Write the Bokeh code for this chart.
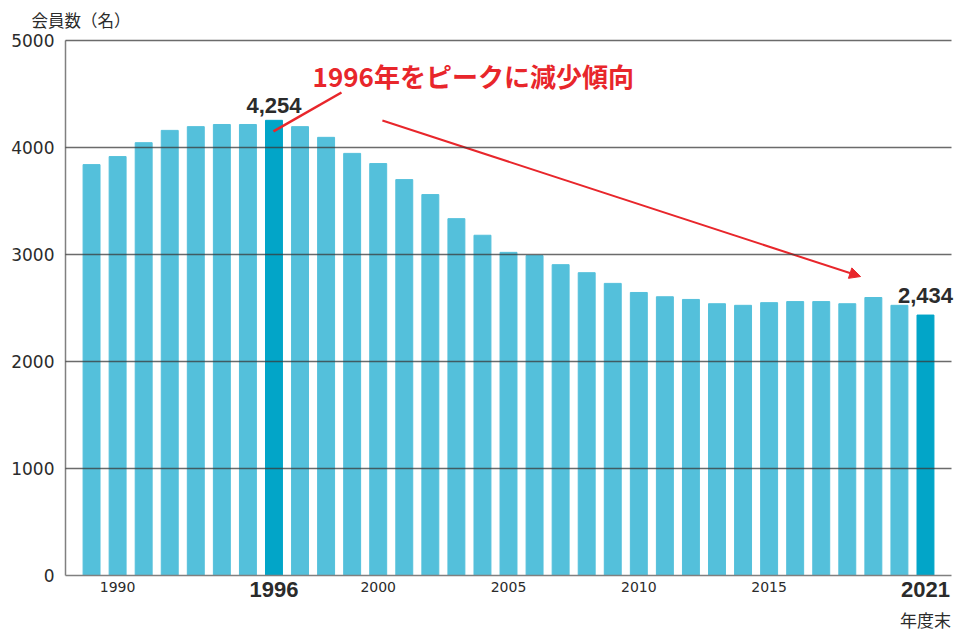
from bokeh.plotting import figure
from bokeh.models import Range1d, FixedTicker, Label, Arrow, NormalHead, ColumnDataSource
from bokeh.embed import file_html
from bokeh.resources import INLINE

# ---- data ----
years = list(range(1989, 2022))
members = [3840, 3915, 4045, 4160, 4195, 4215, 4215, 4254, 4195, 4095, 3945,
           3850, 3700, 3560, 3335, 3180, 3020, 2990, 2905, 2830, 2730, 2645,
           2605, 2580, 2540, 2525, 2550, 2560, 2560, 2540, 2598, 2525, 2434]
highlight_years = [1996, 2021]
y_ticks = [0, 1000, 2000, 3000, 4000, 5000]
x_small_ticks = [1990, 2000, 2005, 2010, 2015]
y_title = "会員数（名）"
x_title = "年度末"
headline = "1996年をピークに減少傾向"

BASE = "#54C0DB"
HILITE = "#02A5C8"
RED = "#E8262B"
TXT = "#2b2b2b"

W, H = 968, 632
colors = [HILITE if y in highlight_years else BASE for y in years]
src = ColumnDataSource(dict(year=years, members=members, color=colors))

# frame covers whole canvas; data area spans 1988..2022 x 0..5000
p = figure(width=W, height=H, output_backend="svg", toolbar_location=None,
           x_range=Range1d(1985.506, 2022.651), y_range=Range1d(-532.7, 5373.8),
           min_border_left=0, min_border_right=0, min_border_top=0,
           min_border_bottom=0)
p.outline_line_color = None
p.background_fill_color = "white"
p.border_fill_color = "white"

p.vbar(x="year", top="members", width=0.65, color="color", source=src)

# y axis
p.yaxis.fixed_location = 1988
p.yaxis.bounds = (0, 5000)
p.yaxis.ticker = FixedTicker(ticks=y_ticks)
p.yaxis.axis_line_color = "#808080"
p.yaxis.axis_line_width = 1.5
p.yaxis.major_tick_line_color = None
p.yaxis.minor_tick_line_color = None
p.yaxis.major_tick_out = 0
p.yaxis.major_label_standoff = 11
p.yaxis.major_label_text_font = "DejaVu Sans"
p.yaxis.major_label_text_font_size = "17px"
p.yaxis.major_label_text_color = TXT

# x axis
p.xaxis.fixed_location = 0
p.xaxis.bounds = (1988, 2022)
p.xaxis.ticker = FixedTicker(ticks=x_small_ticks)
p.xaxis.axis_line_color = "#808080"
p.xaxis.axis_line_width = 1.5
p.xaxis.major_tick_line_color = None
p.xaxis.minor_tick_line_color = None
p.xaxis.major_tick_out = 0
p.xaxis.major_label_standoff = 6
p.xaxis.major_label_text_font = "DejaVu Sans"
p.xaxis.major_label_text_font_size = "14px"
p.xaxis.major_label_text_color = TXT

# grid
p.xgrid.visible = False
p.ygrid.ticker = FixedTicker(ticks=y_ticks[1:])
p.ygrid.cross_bounds = (1988, 2022)
p.ygrid.grid_line_color = "#3a3a3a"
p.ygrid.grid_line_alpha = 0.75
p.ygrid.grid_line_width = 1.5
p.ygrid.level = "overlay"

# bold year labels
for yr in highlight_years:
    p.add_layout(Label(x=yr, y=0, y_offset=-14, text=str(yr), text_align="center",
                       text_baseline="middle", text_font="Liberation Sans",
                       text_font_style="bold", text_font_size="22px", text_color=TXT))

# value labels
peak_val = members[years.index(1996)]
last_val = members[-1]
p.add_layout(Label(x=1996, y=peak_val, y_offset=15, text=f"{peak_val:,}",
                   text_align="center", text_baseline="middle",
                   text_font="Liberation Sans", text_font_style="bold",
                   text_font_size="22px", text_color=TXT))
p.add_layout(Label(x=2021, y=last_val, y_offset=20, text=f"{last_val:,}",
                   text_align="center", text_baseline="middle",
                   text_font="Liberation Sans", text_font_style="bold",
                   text_font_size="22px", text_color=TXT))

# axis titles
p.add_layout(Label(x=31, y=H - 19.5, x_units="screen", y_units="screen", text=y_title,
                   text_align="left", text_baseline="middle",
                   text_font="Noto Sans CJK JP", text_font_size="16.5px", text_color=TXT))
p.add_layout(Label(x=2021, y=0, y_offset=-44, text=x_title, text_align="center",
                   text_baseline="middle", text_font="Noto Sans CJK JP",
                   text_font_size="17px", text_color=TXT))

# headline and red pointers
p.add_layout(Label(x=1997.48, y=4673, text=headline, text_align="left",
                   text_baseline="middle", text_font="Noto Sans CJK JP",
                   text_font_style="bold", text_font_size="26px", text_color=RED))
p.add_layout(Arrow(end=None, x_start=1995.98, y_start=4150, x_end=1998.59, y_end=4514,
                   line_color=RED, line_width=2.5))
p.add_layout(Arrow(end=NormalHead(size=11, fill_color=RED, line_color=RED, line_width=1),
                   x_start=2000.16, y_start=4252, x_end=2018.51, y_end=2794,
                   line_color=RED, line_width=2))

open("out.html", "w").write(file_html(p, INLINE))
